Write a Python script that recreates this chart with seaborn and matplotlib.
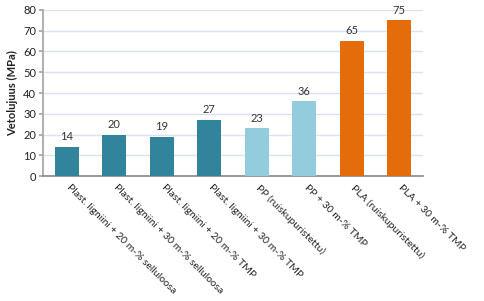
import matplotlib
matplotlib.use("Agg")
import matplotlib.pyplot as plt
import matplotlib.transforms as mtransforms
import seaborn as sns
import pandas as pd

categories = [
    "Plast. ligniini + 20 m-% selluloosa",
    "Plast. ligniini + 30 m-% selluloosa",
    "Plast. ligniini + 20 m-% TMP",
    "Plast. ligniini + 30 m-% TMP",
    "PP (ruiskupuristettu)",
    "PP + 30 m-% TMP",
    "PLA (ruiskupuristettu)",
    "PLA + 30 m-% TMP",
]
values = [14, 20, 19, 27, 23, 36, 65, 75]
colors = ["#31849B", "#31849B", "#31849B", "#31849B",
          "#93CDDD", "#93CDDD", "#E46C0A", "#E46C0A"]
yticks = [0, 10, 20, 30, 40, 50, 60, 70, 80]
ylabel = "Vetolujuus (MPa)"

sns.set_theme(style="white")
plt.rcParams["font.family"] = ["Lato", "DejaVu Sans"]

df = pd.DataFrame({"cat": categories, "val": values})

fig = plt.figure(figsize=(4.84, 3.01), dpi=100)
ax = fig.add_axes([0.089, 0.415, 0.785, 0.552])

sns.barplot(data=df, x="cat", y="val", hue="cat", palette=colors,
            legend=False, width=0.5, ax=ax, saturation=1, zorder=3,
            linewidth=0)

for p, v in zip(ax.patches, values):
    ax.text(p.get_x() + p.get_width() / 2, v + 2.3, str(v),
            ha="center", va="bottom", fontsize=8, color="#333333")

ax.set_ylim(0, 80)
ax.set_yticks(yticks)
ax.set_xlim(-0.5, len(categories) - 0.5)
ax.yaxis.grid(True, color="#D9E2F0", linewidth=1, zorder=0)
ax.set_axisbelow(True)
for s in ["top", "right"]:
    ax.spines[s].set_visible(False)
ax.spines["left"].set_color("#A6A6A6")
ax.spines["bottom"].set_color("#8C8C8C")
ax.tick_params(axis="y", labelsize=8, colors="#222222", left=True, length=3,
               color="#A6A6A6", pad=2)
ax.tick_params(axis="x", length=0, pad=5)
ax.set_xticks(range(len(categories)))
ax.set_xticklabels(categories, rotation=-45, ha="left", va="top",
                   rotation_mode="anchor", fontsize=7.5, color="#222222")
shift = mtransforms.ScaledTranslation(3 / 72, 0, fig.dpi_scale_trans)
for lbl in ax.get_xticklabels():
    lbl.set_transform(lbl.get_transform() + shift)
ax.set_xlabel("")
ax.set_ylabel(ylabel, fontsize=8, fontweight="bold", color="#222222", labelpad=4)

fig.savefig("out.png", dpi=100)
